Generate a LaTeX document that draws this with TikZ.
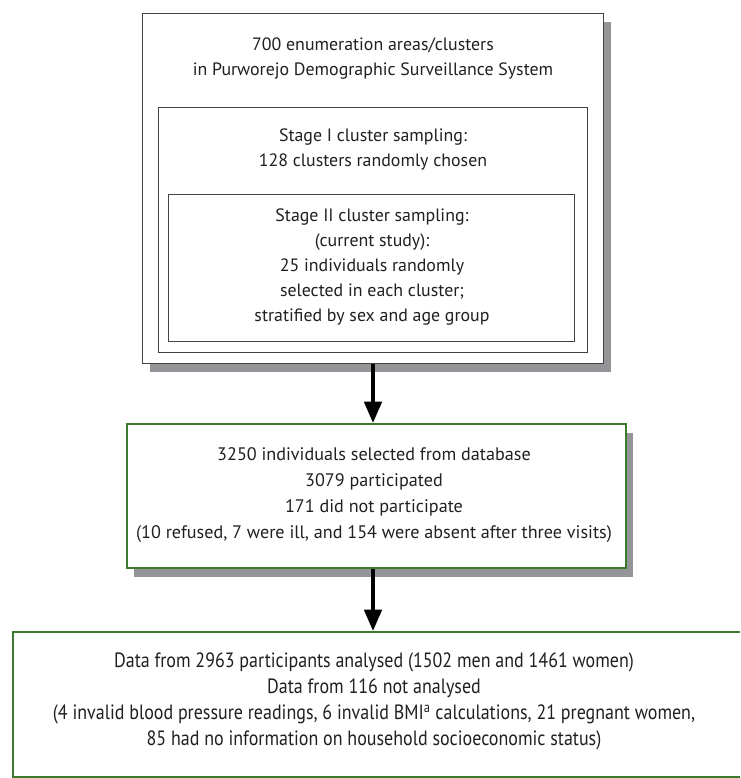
\documentclass[tikz,border=0pt]{standalone}
\usepackage{fontspec}
\setmainfont{PT Sans}
\newfontfamily\condfont[FakeStretch=0.87]{PT Sans}
\usetikzlibrary{arrows.meta}
\definecolor{shadowgray}{RGB}{147,149,152}
\definecolor{boxgreen}{RGB}{62,122,46}
\definecolor{inkdark}{RGB}{35,31,32}
\tikzset{
  blackbox/.style={draw=inkdark!85, line width=1pt, fill=white, inner sep=0pt, anchor=north west},
  greenbox/.style={draw=boxgreen, line width=1.6pt, fill=white, inner sep=0pt, anchor=north west},
  shadowbox/.style={fill=shadowgray, draw=none, inner sep=0pt, anchor=north west},
  txt/.style={align=center, inner sep=0pt, text=inkdark, font=\fontsize{13.4}{18.75}\selectfont},
  ctxt/.style={align=center, inner sep=0pt, text=inkdark, font=\condfont\fontsize{15.5}{19.5}\selectfont},
  flowarrow/.style={line width=2.8pt, -{Triangle[width=13pt,length=16pt]}, draw=black},
}
\begin{document}
\begin{tikzpicture}[x=0.75pt,y=-0.75pt]
\path[use as bounding box, fill=white] (0,0) rectangle (740,778);
\begin{scope}
\clip (0,0) rectangle (740,778);
% shadows
\node[shadowbox, minimum width={461*0.75pt}, minimum height={350*0.75pt}] (outersh) at (150,22) {};
\node[shadowbox, minimum width={499*0.75pt}, minimum height={144*0.75pt}] (midsh) at (134,433) {};
% top nested boxes
\node[blackbox, minimum width={461*0.75pt}, minimum height={350*0.75pt}] (outer) at (142,13) {};
\node[blackbox, minimum width={429*0.75pt}, minimum height={245*0.75pt}] (stageone) at (158,107) {};
\node[blackbox, minimum width={406*0.75pt}, minimum height={147*0.75pt}] (stagetwo) at (168,194) {};
\node[txt] (outertxt) at (373,58.5) {700 enumeration areas/clusters\\in Purworejo Demographic Surveillance System};
\node[txt] (stageonetxt) at (373,149) {Stage I cluster sampling:\\128 clusters randomly chosen};
\node[txt] (stagetwotxt) at (372,267.5) {Stage II cluster sampling:\\(current study):\\25 individuals randomly\\selected in each cluster;\\stratified by sex and age group};
% middle box
\node[greenbox, minimum width={499*0.75pt}, minimum height={144*0.75pt}] (mid) at (126,423) {};
\node[txt, font=\fontsize{13.6}{19.5}\selectfont] (midtxt) at (374,495) {3250 individuals selected from database\\3079 participated\\171 did not participate\\(10 refused, 7 were ill, and 154 were absent after three visits)};
% bottom box
\node[greenbox, minimum width={760*0.75pt}, minimum height={145*0.75pt}] (bot) at (12,631) {};
\node[ctxt] (bottxt) at (374,701) {Data from 2963 participants analysed (1502 men and 1461 women)\\Data from 116 not analysed\\(4 invalid blood pressure readings, 6 invalid BMI\textsuperscript{a} calculations, 21 pregnant women,\\85 had no information on household socioeconomic status)};
\end{scope}
% arrows
\coordinate (a1s) at (373,363);
\coordinate (a1e) at (373,423);
\coordinate (a2s) at (373,567);
\coordinate (a2e) at (373,631);
\draw[flowarrow] (outer.south -| a1s) -- (mid.north -| a1e);
\draw[flowarrow] (mid.south -| a2s) -- (bot.north -| a2e);
\end{tikzpicture}
\end{document}
